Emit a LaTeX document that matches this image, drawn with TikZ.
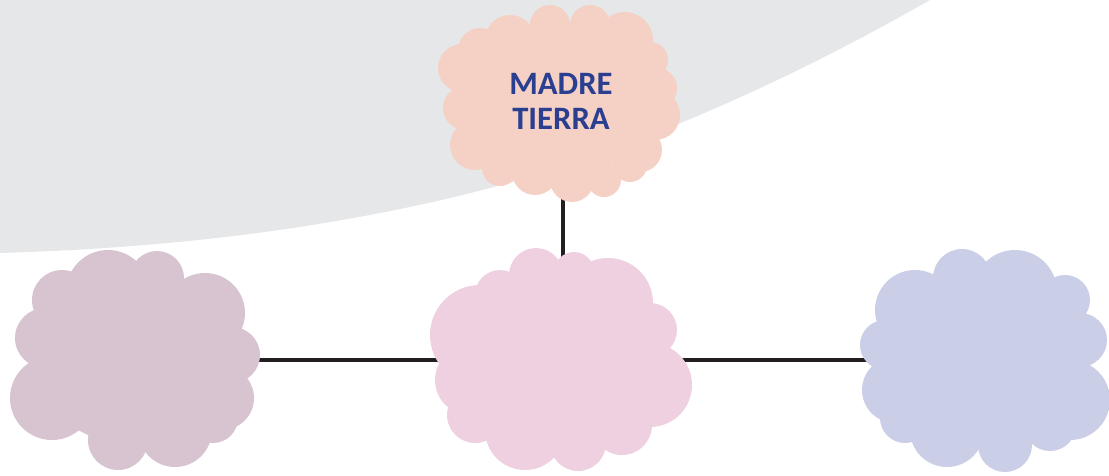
\documentclass[tikz,border=0pt]{standalone}
\usepackage{fontspec}
\setmainfont{Carlito}
\definecolor{bggrey}{HTML}{E6E7E9}
\definecolor{peach}{HTML}{F5D0C4}
\definecolor{mauve}{HTML}{D7C4D0}
\definecolor{pinkc}{HTML}{EFD0E0}
\definecolor{lavender}{HTML}{CBCEE7}
\definecolor{titleblue}{HTML}{2A3F8F}
\definecolor{linec}{HTML}{231F20}
\tikzset{
  connector/.style={draw=linec, line width=2.4pt},
  title/.style={text=titleblue, font=\fontsize{24.5}{26.25}\selectfont\bfseries, align=center, inner sep=0pt}
}
\newcommand{\cloudshape}[4]{% color, core path, bumps
  \fill[#1] #2;
  \foreach \bx/\by/\br in {#3} { \fill[#1] (\bx,\by) circle[radius=\br]; }
}
\begin{document}
\begin{tikzpicture}[x=0.75pt,y=-0.75pt]
\useasboundingbox (0,0) rectangle (1109,475);
\clip (0,0) rectangle (1109,475);
% grey background arc
\fill[bggrey] (-10,-10) -- (948,-10) -- (930,0)
  .. controls (770,91.2) and (610,160.4) .. (450,198)
  .. controls (300,233.25) and (150,248.5) .. (0,253)
  -- (-10,253.3) -- cycle;
% anchor coordinates
\coordinate (top) at (563,102);
\coordinate (left) at (135,360);
\coordinate (mid) at (563,360);
\coordinate (right) at (985,360);
% connectors
\draw[connector] (top) -- (mid);
\draw[connector] (left) -- (mid);
\draw[connector] (mid) -- (right);
% top cloud
\cloudshape{peach}{(560,102) ellipse[x radius=95, y radius=75]}{510/40/25, 550/25/20, 590/25/20, 625/40/28, 650/60/18, 657/88/20, 655/115/25, 640/150/22, 630/165/17, 604/180/17, 572/180/22, 535/172/23, 500/168/18, 475/145/25, 465/108/22, 462/68/24, 480/50/22}{}
% left cloud
\cloudshape{mauve}{(135,360) ellipse[x radius=100, y radius=85]}{108/292/42, 157/278/27, 205/313/40, 232/355/28, 222/398/32, 213/418/25, 175/430/37, 118/440/30, 52/398/42, 45/338/30, 62/300/30}{}
% middle cloud
\cloudshape{pinkc}{(560,360) ellipse[x radius=110, y radius=90]}{536/275/27, 574/272/20, 608/303/45, 650/330/27, 650/385/42, 622/425/30, 578/443/28, 525/430/40, 475/415/28, 470/380/35, 480/335/50, 500/295/25}{}
% right cloud
\cloudshape{lavender}{(985,360) ellipse[x radius=100, y radius=80]}{962/278/29, 1015/292/42, 1065/300/25, 1080/340/27, 1070/400/40, 1050/425/26, 1005/445/27, 947/430/37, 905/418/25, 895/390/33, 885/345/25, 915/310/40}{}
% title
\node[title] (toplabel) at (561,101) {MADRE\\TIERRA};
\end{tikzpicture}
\end{document}
